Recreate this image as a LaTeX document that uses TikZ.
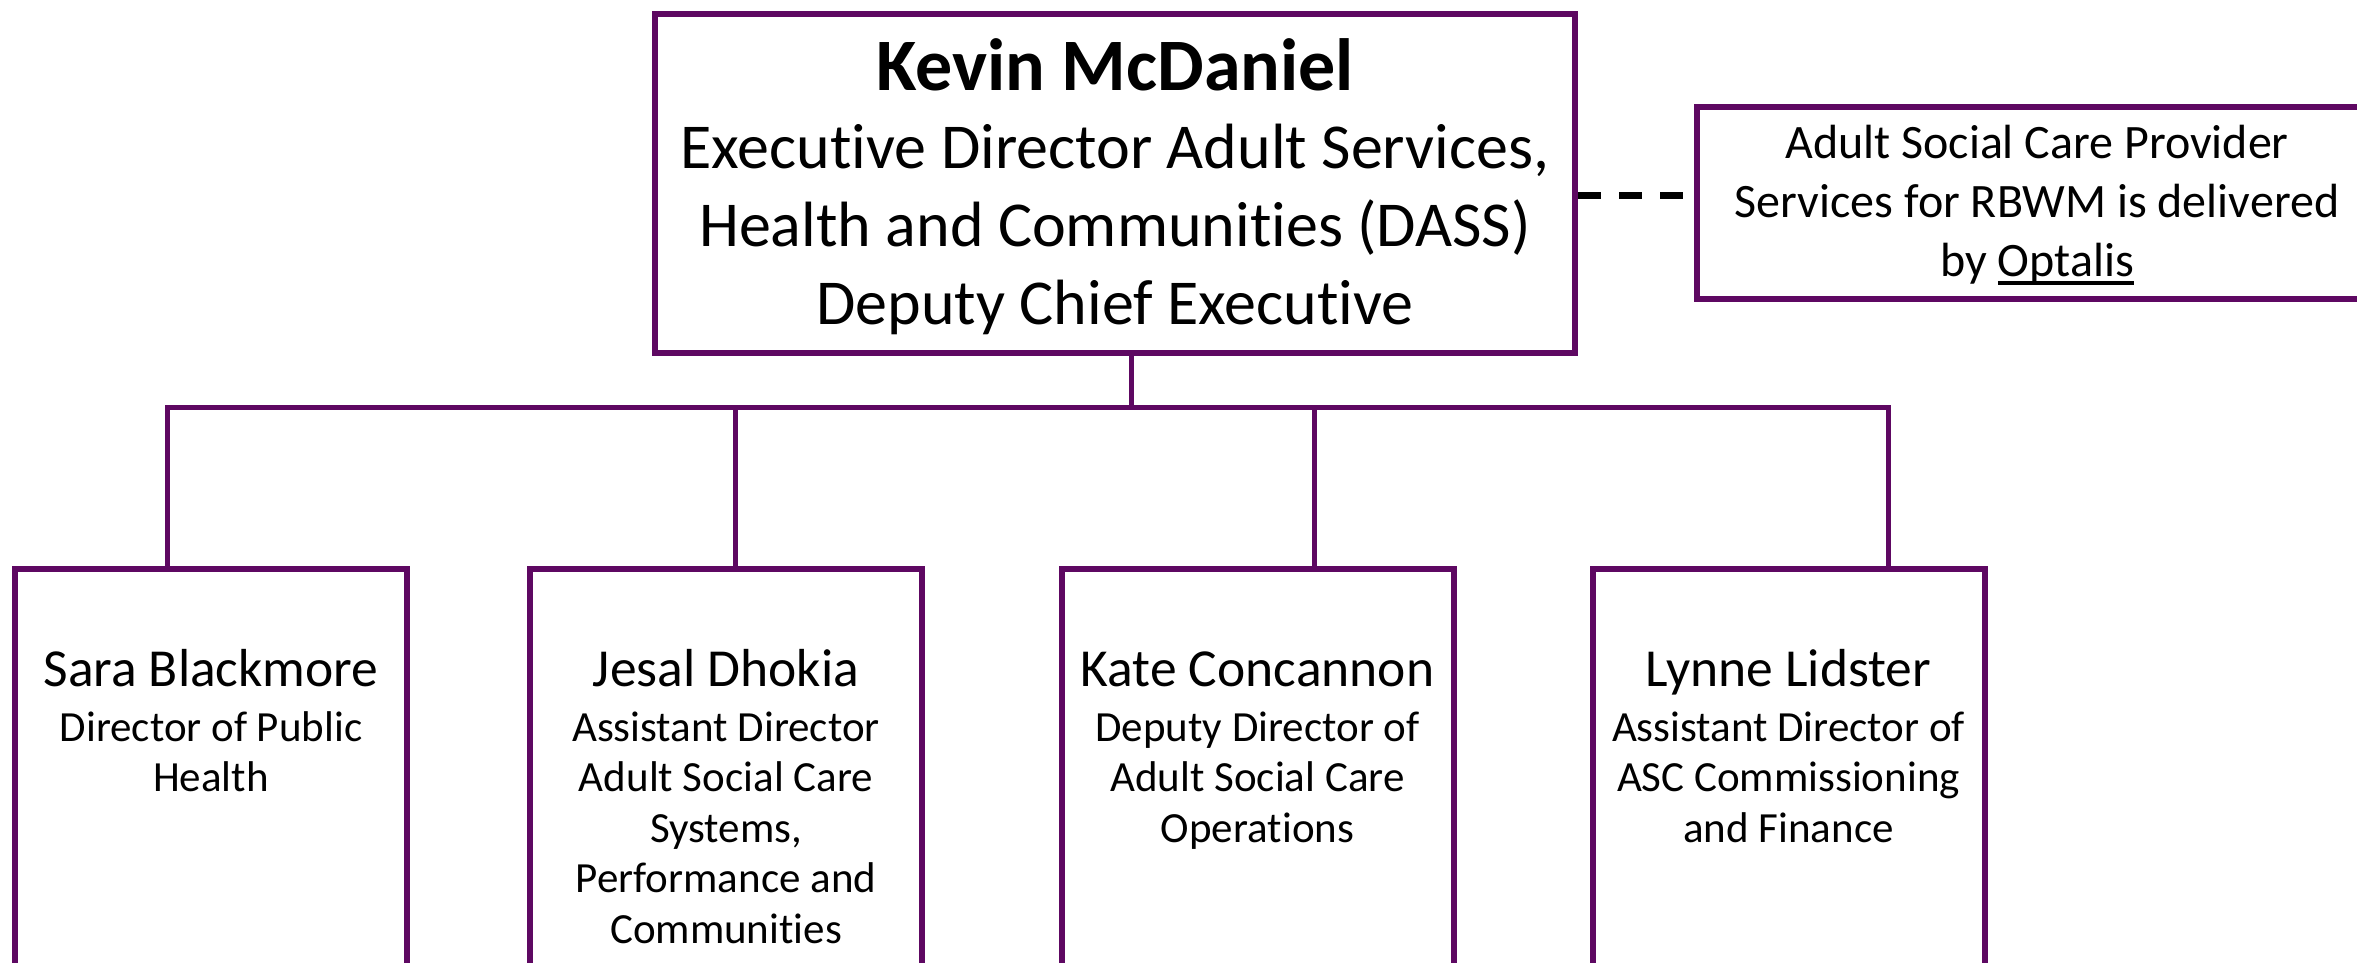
\documentclass[tikz,border=0pt]{standalone}
\usepackage{fontspec}
\setmainfont{Carlito}[Ligatures=NoCommon]
\usetikzlibrary{positioning, calc}

\definecolor{ascpurple}{RGB}{94,8,98}

% underline with a rule that scales with the large text
\newcommand{\thickul}[1]{\setbox0\hbox{#1}\rlap{\rule[-8.5pt]{\wd0}{3.3pt}}\box0}
% plain word spaces of the current font
\newcommand{\wordsp}{\spaceskip=\fontdimen2\font\relax}

\tikzset{
    box/.style={draw=ascpurple, line width=6pt, fill=white, align=center,
        inner xsep=0pt, inner ysep=0pt, anchor=north},
    staffbox/.style={box, text width=392pt, text height=117pt, text depth=300pt,
        font=\fontsize{43}{50.5}\selectfont},
    link/.style={draw=ascpurple, line width=5pt},
    dashline/.style={draw=black, line width=7pt, dash pattern=on 23pt off 18pt},
}

\begin{document}
\begin{tikzpicture}[x=1pt, y=-1pt]

    \useasboundingbox (0, 0) rectangle (2357, 963);
    \clip (0, 0) rectangle (2357, 963);

    % --- Executive Director ---
    \node[box, text width=920pt, text height=77pt, text depth=262pt,
          font=\fontsize{64}{78}\selectfont] (top) at (1115, 11)
        {{\fontsize{74}{79}\selectfont\bfseries\wordsp Kevin McDaniel}\\
         \wordsp Executive Director Adult Services,\\
         Health and Communities (DASS)\\
         Deputy Chief Executive\par};

    % --- Provider note ---
    \node[box, text width=680pt, text height=51pt, text depth=141pt,
          font=\fontsize{48}{59}\selectfont] (asc) at (2037, 104)
        {\wordsp Adult Social Care Provider\\
         Services for RBWM is delivered\\
         by \thickul{Optalis}\par};

    % --- Directors and Assistant Directors ---
    \node[staffbox] (sara) at (211, 566)
        {{\fontsize{53.5}{55}\selectfont\wordsp Sara Blackmore}\\[4.5pt]
         \wordsp Director of Public\\ Health\par};
    \node[staffbox] (jesal) at (726, 566)
        {{\fontsize{53.5}{55}\selectfont\wordsp Jesal Dhokia}\\[4.5pt]
         \wordsp Assistant Director\\ Adult Social Care\\ Systems,\\
         Performance and\\ Communities\par};
    \node[staffbox] (kate) at (1257.5, 566)
        {{\fontsize{53.5}{55}\selectfont\wordsp Kate Concannon}\\[4.5pt]
         \wordsp Deputy Director of\\ Adult Social Care\\ Operations\par};
    \node[staffbox] (lynne) at (1788.5, 566)
        {{\fontsize{53.5}{55}\selectfont\wordsp Lynne Lidster}\\[4.5pt]
         \wordsp Assistant Director of\\ ASC Commissioning\\ and Finance\par};

    % --- Reporting lines ---
    \coordinate (stem) at ([xshift=16pt]top.south);
    \coordinate (hub) at (stem |- 0, 407);
    \draw[link] (stem) -- (hub);
    \draw[link] (hub) -| ([xshift=-44pt]sara.north);
    \draw[link] (hub) -| ([xshift=9pt]jesal.north);
    \draw[link] (hub) -| ([xshift=57pt]kate.north);
    \draw[link] (hub) -| ([xshift=100pt]lynne.north);

    % --- Link to provider (dashed) ---
    \draw[dashline] (top.east |- 0, 195) -- (asc.west |- 0, 195);

\end{tikzpicture}
\end{document}
